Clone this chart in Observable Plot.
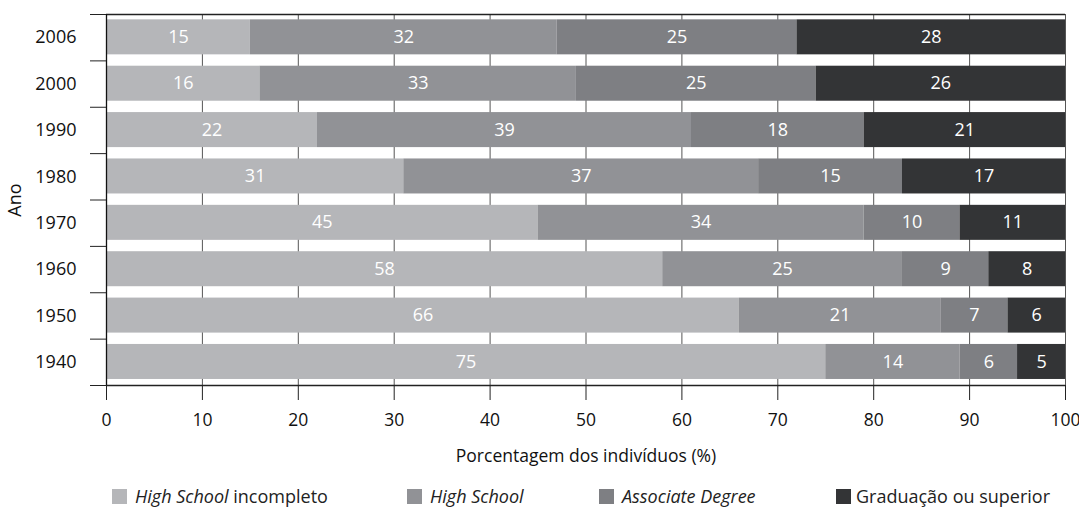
<!DOCTYPE html>
<html>
<head>
<meta charset="utf-8">
<script src="https://cdn.jsdelivr.net/npm/d3@7"></script>
<script src="https://cdn.jsdelivr.net/npm/@observablehq/plot@0.6"></script>
<style>
  html, body { margin: 0; padding: 0; background: #fff; }
  body { width: 1079px; height: 511px; position: relative; overflow: hidden; font-family: "Open Sans", "Noto Sans", sans-serif; }
  #legend { position: absolute; left: 0; top: 489px; width: 1079px; height: 15px; }
  .item { position: absolute; top: 0; height: 15px; font-size: 18px; color: #222; white-space: nowrap; }
  .sw { position: absolute; left: 0; top: 0; width: 15px; height: 15px; display: block; }
  .lab { position: absolute; top: -4px; line-height: 22px; }
</style>
</head>
<body>
<div id="chart"></div>
<div id="legend"></div>
<script>
// ---- data (top row first) ----
const years = ["2006", "2000", "1990", "1980", "1970", "1960", "1950", "1940"];
const hsIncompleto = [15, 16, 22, 31, 45, 58, 66, 75];
const highSchool   = [32, 33, 39, 37, 34, 25, 21, 14];
const associate    = [25, 25, 18, 15, 10, 9, 7, 6];
const graduacao    = [28, 26, 21, 17, 11, 8, 6, 5];
const categories = ["High School incompleto", "High School", "Associate Degree", "Graduação ou superior"];
const legendHtml = ["<i>High School</i> incompleto", "<i>High School</i>", "<i>Associate Degree</i>", "Graduação ou superior"];
const colors = ["#b5b6b9", "#919296", "#7e7f83", "#333436"];
const xTicks = [0, 10, 20, 30, 40, 50, 60, 70, 80, 90, 100];

const series = [hsIncompleto, highSchool, associate, graduacao];
const rows = [];
years.forEach((yr, i) => {
  let acc = 0;
  series.forEach((s, k) => {
    const v = s[i];
    rows.push({year: yr, idx: i, cat: categories[k], value: v, x1: acc, x2: acc + v});
    acc += v;
  });
});

const font = '"Open Sans", "Noto Sans", sans-serif';

const chart = Plot.plot({
  width: 1079,
  height: 470,
  marginLeft: 106,
  marginRight: 14,
  marginTop: 14,
  marginBottom: 85,
  style: {fontFamily: font, fontSize: "18px", color: "#222", background: "#fff", overflow: "visible"},
  x: {domain: [0, 100]},
  y: {domain: [0, years.length], reverse: true},
  color: {domain: categories, range: colors},
  marks: [
    Plot.gridX(xTicks.filter(d => d > 0), {stroke: "#555", strokeOpacity: 1, strokeWidth: 1}),
    Plot.rectX(rows, {
      x1: "x1", x2: "x2",
      y1: d => d.idx + 0.115, y2: d => d.idx + 0.87,
      fill: "cat"
    }),
    Plot.text(rows, {
      x: d => (d.x1 + d.x2) / 2,
      y: d => d.idx + 0.49,
      text: d => String(d.value),
      fill: "#fff",
      fontSize: 18
    }),
    Plot.ruleY([0, years.length], {stroke: "#222", strokeWidth: 1.3}),
    Plot.ruleX([0], {stroke: "#111", strokeWidth: 1.3}),
    Plot.axisY({
      ticks: d3.range(years.length + 1),
      tickSize: 16,
      tickFormat: () => "",
      label: null,
      stroke: "#222"
    }),
    Plot.axisY({
      ticks: years.map((_, i) => i + 0.5),
      tickSize: 0,
      tickPadding: 30,
      tickFormat: d => years[Math.floor(d)],
      fontSize: 18,
      fill: "#111",
      label: "Ano",
      labelAnchor: "center",
      labelArrow: "none",
      labelOffset: 98
    }),
    Plot.axisX({
      ticks: xTicks,
      tickSize: 15,
      tickPadding: 13,
      fontSize: 17.5,
      fill: "#111",
      stroke: "#222",
      label: "Porcentagem dos indivíduos (%)",
      labelAnchor: "center",
      labelArrow: "none",
      labelOffset: 76
    })
  ]
});
document.getElementById("chart").appendChild(chart);

// ---- legend ----
const legendX = [112, 407, 599, 836];
const legend = document.getElementById("legend");
categories.forEach((c, k) => {
  const item = document.createElement("div");
  item.className = "item";
  item.style.left = legendX[k] + "px";
  item.innerHTML = `<span class="sw" style="background:${colors[k]}"></span><span class="lab" style="left:${k === 3 ? 20 : 23}px">${legendHtml[k]}</span>`;
  legend.appendChild(item);
});
</script>
</body>
</html>
